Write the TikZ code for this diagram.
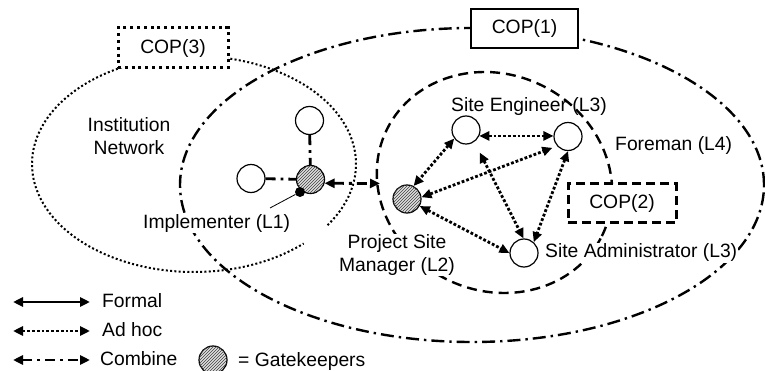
\documentclass[tikz,border=0pt]{standalone}
\usepackage{fontspec}
\setmainfont{Liberation Sans}
\usetikzlibrary{arrows.meta,patterns,calc}
\begin{document}
\begin{tikzpicture}[x=1pt,y=-1pt,
  every node/.style={font=\fontsize{19.3}{23}\selectfont},
  bothtips/.style={{Triangle[length=10pt,width=9pt]}-{Triangle[length=10pt,width=9pt]}},
  adhoc/.style={line width=2.8pt, dash pattern=on 2.8pt off 2pt, bothtips},
  combo/.style={line width=2.8pt, dash pattern=on 10pt off 5pt on 2.8pt off 5pt},
  formal/.style={line width=2.8pt, bothtips},
  person/.style={circle, draw, line width=1.2pt, minimum size=28pt, inner sep=0pt, fill=white},
  gate/.style={person, fill=gray!25, postaction={pattern=north east lines, pattern color=black!75}},
  txt/.style={inner sep=0pt, anchor=base west},
  opaque/.style={fill=white, inner sep=1pt},
  cop1line/.style={line width=2.4pt, dash pattern=on 13pt off 5pt on 2.4pt off 5pt},
  cop2line/.style={line width=2.4pt, dash pattern=on 10pt off 6pt},
  cop3line/.style={line width=2pt, dash pattern=on 2pt off 2.3pt},
  copbox/.style={draw, fill=white, inner sep=0pt, minimum height=39pt, text depth=3pt},
  solidbox/.style={copbox, line width=1.2pt},
  dashbox/.style={copbox, line width=3pt, dash pattern=on 9pt off 5pt},
  dotbox/.style={copbox, line width=3pt, dash pattern=on 3pt off 3.8pt}
]
\useasboundingbox (0,0) rectangle (765,371);

% community ellipses
\draw[cop1line] (472,185) ellipse [x radius=292pt, y radius=157pt];
\draw[cop3line] (194,164) ++(-34.5:162pt and 108pt) arc[start angle=-34.5, end angle=312.6, x radius=162pt, y radius=108pt];
\draw[cop2line, rotate around={-26.5:(494.5,182.5)}] (494.5,182.5) ellipse [x radius=120pt, y radius=108pt];

% opaque labels
\node[opaque, anchor=base west] (impl) at (142,228.3) {Implementer (L1)};
\node[opaque, anchor=north, align=center, inner sep=0.5pt] (psml) at (397,233.5) {Project Site\\Manager (L2)};
\node[opaque, anchor=base west] (sal) at (544,258) {Site Administrator (L3)};

% COP boxes
\node[solidbox, minimum width=107pt] (cop1) at (524.5,28.5) {COP(1)};
\node[dashbox, minimum width=108pt] (cop2) at (622,203.5) {COP(2)};
\node[dotbox, minimum width=110pt, minimum height=40pt] (cop3) at (173,48) {COP(3)};

% other labels
\node[txt, align=center, anchor=north] (inst) at (129,117.5) {Institution\\Network};
\node[txt] (sel) at (451,112) {Site Engineer (L3)};
\node[txt] (fml) at (615,151) {Foreman (L4)};

% people
\node[person] (top) at (309.5,120.5) {};
\node[person] (left) at (251,178.5) {};
\node[gate] (l1) at (310.5,179.5) {};
\node[circle, fill=black, minimum size=10pt, inner sep=0pt] (dot) at (300,192) {};
\node[gate] (psm) at (407,199) {};
\node[person] (se) at (466,130) {};
\node[person] (fm) at (568,136.5) {};
\node[person] (sa) at (524,253) {};

% institution links
\draw[combo] (top) -- (l1);
\draw[combo] (left) -- (l1);
\coordinate (implpt) at (270,208);
\draw[line width=0.8pt] (dot) -- (implpt);
\coordinate (cb) at (380,183.5);
\draw[combo, bothtips] (l1.-15) -- (cb);

% ad hoc links
\draw[adhoc] (se.-24) -- (se.-24 -| fm.west);
\draw[adhoc] (se.216) -- (psm.63);
\draw[adhoc, shorten >=5pt] (psm.7) -- (fm.221);
\draw[adhoc] (psm.-29) -- (sa.180);
\draw[adhoc, shorten <=12pt] (se.-55) -- (sa.92);
\draw[adhoc] (fm.270) -- (sa.48);

% legend
\coordinate (fa) at (13,302);
\coordinate (fb) at (90,302);
\coordinate (aa) at (13,331);
\coordinate (ab) at (90,331);
\coordinate (ca) at (13,360);
\coordinate (cb2) at (90,360);
\draw[formal] (fa) -- (fb);
\draw[adhoc] (aa) -- (ab);
\draw[combo, bothtips] (ca) -- (cb2);
\node[txt] (lf) at (102,307) {Formal};
\node[txt] (la) at (102,336) {Ad hoc};
\node[txt] (lc) at (100,365.5) {Combine};
\node[gate] (lg) at (213,360) {};
\node[txt] (lgt) at (238,366) {= Gatekeepers};
\end{tikzpicture}
\end{document}
